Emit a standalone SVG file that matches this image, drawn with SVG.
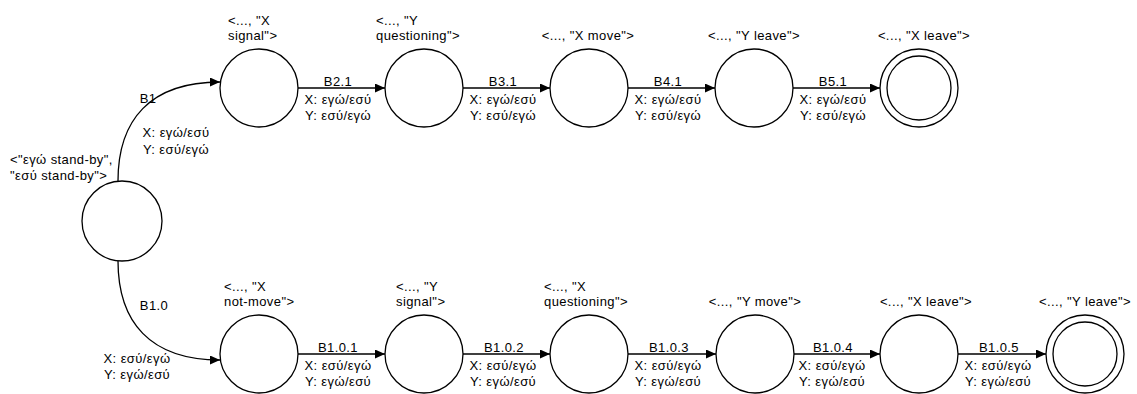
<svg xmlns="http://www.w3.org/2000/svg" width="1137" height="394" viewBox="0 0 1137 394">
  <style>
    text { font-family: "Liberation Sans", Arial, sans-serif; font-size: 13px; letter-spacing: 0.4px; fill: #000; }
    .c { text-anchor: middle; }
    .st { fill: #fff; stroke: #000; stroke-width: 1.3; }
    .e { fill: none; stroke: #000; stroke-width: 1.3; marker-end: url(#arr); }
  </style>
  <defs>
    <marker id="arr" markerUnits="userSpaceOnUse" markerWidth="11" markerHeight="10" refX="10" refY="4.5" orient="auto">
      <path d="M0,0 L10,4.5 L0,9 z" fill="#000"/>
    </marker>
  </defs>
  <rect width="1137" height="394" fill="#fff"/>

  <g id="connectors">
    <path class="e" d="M118,181 C118,120 150,82 220,82"/>
    <path class="e" d="M118,261 C118,322 150,360 220,360"/>
    <line class="e" x1="298" y1="88" x2="385" y2="88"/>
    <line class="e" x1="463" y1="88" x2="550" y2="88"/>
    <line class="e" x1="628" y1="88" x2="715" y2="88"/>
    <line class="e" x1="793" y1="88" x2="880" y2="88"/>
    <line class="e" x1="298" y1="354" x2="385" y2="354"/>
    <line class="e" x1="463" y1="354" x2="550" y2="354"/>
    <line class="e" x1="628" y1="354" x2="716" y2="354"/>
    <line class="e" x1="794" y1="354" x2="880" y2="354"/>
    <line class="e" x1="958" y1="354" x2="1046" y2="354"/>
    <text class="c" x="148" y="103">B1</text>
    <text class="c" x="176" y="137">X: εγώ/εσύ</text>
    <text class="c" x="176" y="154">Y: εσύ/εγώ</text>
    <text class="c" x="154" y="310">B1.0</text>
    <text class="c" x="137" y="363">X: εσύ/εγώ</text>
    <text class="c" x="137" y="379">Y: εγώ/εσύ</text>
    <text class="c" x="338" y="86">B2.1</text>
    <text class="c" x="338" y="103.5">X: εγώ/εσύ</text>
    <text class="c" x="338" y="120">Y: εσύ/εγώ</text>
    <text class="c" x="503" y="86">B3.1</text>
    <text class="c" x="503" y="103.5">X: εγώ/εσύ</text>
    <text class="c" x="503" y="120">Y: εσύ/εγώ</text>
    <text class="c" x="668" y="86">B4.1</text>
    <text class="c" x="668" y="103.5">X: εγώ/εσύ</text>
    <text class="c" x="668" y="120">Y: εσύ/εγώ</text>
    <text class="c" x="833" y="86">B5.1</text>
    <text class="c" x="833" y="103.5">X: εγώ/εσύ</text>
    <text class="c" x="833" y="120">Y: εσύ/εγώ</text>
    <text class="c" x="338" y="351.5">B1.0.1</text>
    <text class="c" x="338" y="369.5">X: εσύ/εγώ</text>
    <text class="c" x="338" y="386">Y: εγώ/εσύ</text>
    <text class="c" x="504" y="351.5">B1.0.2</text>
    <text class="c" x="503" y="369.5">X: εσύ/εγώ</text>
    <text class="c" x="503" y="386">Y: εγώ/εσύ</text>
    <text class="c" x="669" y="351.5">B1.0.3</text>
    <text class="c" x="668" y="369.5">X: εσύ/εγώ</text>
    <text class="c" x="668" y="386">Y: εγώ/εσύ</text>
    <text class="c" x="833" y="351.5">B1.0.4</text>
    <text class="c" x="832" y="369.5">X: εσύ/εγώ</text>
    <text class="c" x="832" y="386">Y: εγώ/εσύ</text>
    <text class="c" x="999" y="351.5">B1.0.5</text>
    <text class="c" x="998" y="369.5">X: εσύ/εγώ</text>
    <text class="c" x="998" y="386">Y: εγώ/εσύ</text>
  </g>

  <g id="start">
    <circle class="st" cx="122" cy="221" r="40"/>
    <text x="10" y="163.5">&lt;"εγώ stand-by",</text>
    <text x="10" y="179.5">"εσύ stand-by"&gt;</text>
  </g>

  <g id="x-signal">
    <circle class="st" cx="259" cy="88" r="39"/>
    <text x="228" y="24.5">&lt;..., "X</text>
    <text x="228" y="40">signal"&gt;</text>
  </g>
  <g id="y-questioning">
    <circle class="st" cx="424" cy="88" r="39"/>
    <text x="376" y="24.5">&lt;..., "Y</text>
    <text x="376" y="40">questioning"&gt;</text>
  </g>
  <g id="x-move">
    <circle class="st" cx="589" cy="88" r="39"/>
    <text class="c" x="588" y="40">&lt;..., "X move"&gt;</text>
  </g>
  <g id="y-leave-top">
    <circle class="st" cx="754" cy="88" r="39"/>
    <text class="c" x="754" y="40">&lt;..., "Y leave"&gt;</text>
  </g>
  <g id="x-leave-final">
    <circle class="st" cx="919" cy="88" r="39"/>
    <circle class="st" cx="919" cy="88" r="32"/>
    <text class="c" x="924" y="40">&lt;..., "X leave"&gt;</text>
  </g>

  <g id="x-not-move">
    <circle class="st" cx="259" cy="354" r="39"/>
    <text x="224" y="290.5">&lt;..., "X</text>
    <text x="224" y="306">not-move"&gt;</text>
  </g>
  <g id="y-signal">
    <circle class="st" cx="424" cy="354" r="39"/>
    <text x="396" y="290.5">&lt;..., "Y</text>
    <text x="396" y="306">signal"&gt;</text>
  </g>
  <g id="x-questioning">
    <circle class="st" cx="589" cy="354" r="39"/>
    <text x="544" y="290.5">&lt;..., "X</text>
    <text x="544" y="306">questioning"&gt;</text>
  </g>
  <g id="y-move">
    <circle class="st" cx="755" cy="354" r="39"/>
    <text class="c" x="755" y="306">&lt;..., "Y move"&gt;</text>
  </g>
  <g id="x-leave">
    <circle class="st" cx="919" cy="354" r="39"/>
    <text class="c" x="926" y="306">&lt;..., "X leave"&gt;</text>
  </g>
  <g id="y-leave-final">
    <circle class="st" cx="1085" cy="354" r="39"/>
    <circle class="st" cx="1085" cy="354" r="32"/>
    <text class="c" x="1085" y="306">&lt;..., "Y leave"&gt;</text>
  </g>
</svg>
